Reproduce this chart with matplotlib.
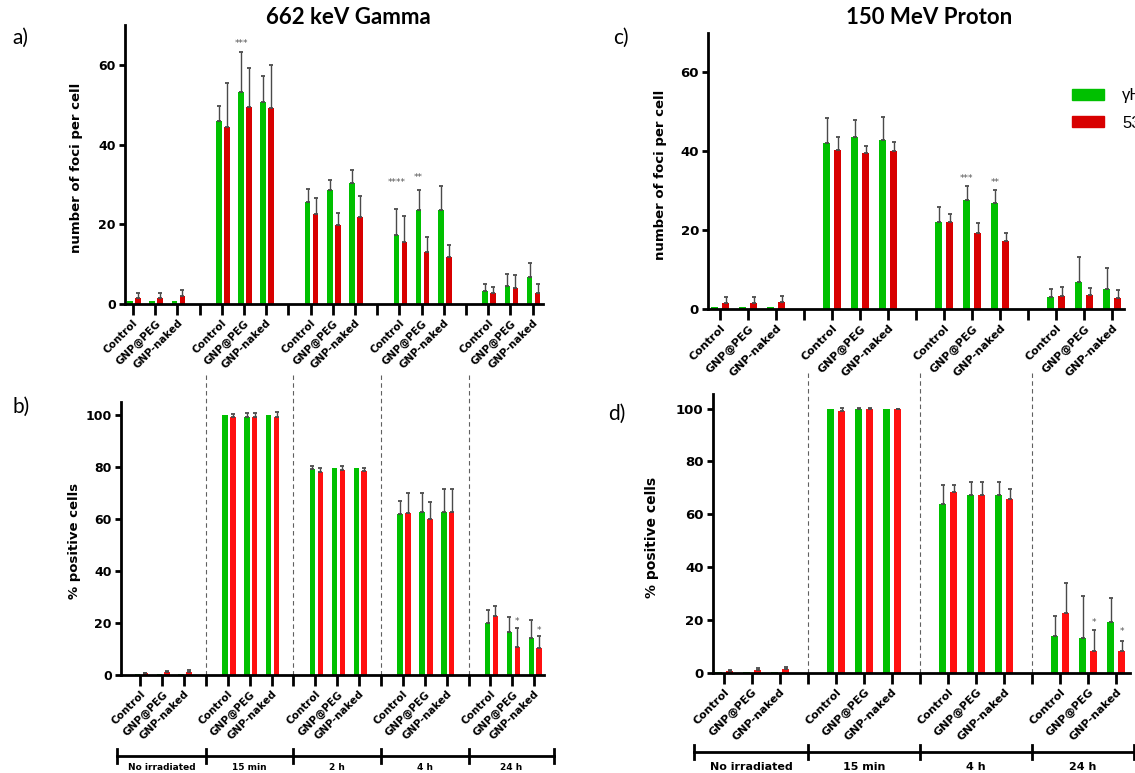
import numpy as np
import matplotlib.pyplot as plt
import matplotlib.transforms as mtransforms
from matplotlib.patches import Patch

# ---- data -------------------------------------------------------------
samples = ["Control", "GNP@PEG", "GNP-naked"]
times_gamma = ["No irradiated", "15 min", "2 h", "4 h", "24 h"]
times_proton = ["No irradiated", "15 min", "4 h", "24 h"]

# a) 662 keV gamma, foci per cell (gH2AX green / 53BP1 red)
foci_g_green = [0.8, 0.8, 0.8, 45.9, 53.3, 50.8, 25.6, 28.7, 30.4, 17.3, 23.7, 23.5, 3.3, 4.6, 6.8]
foci_g_green_err = [0, 0, 0, 3.9, 10.0, 6.5, 3.3, 2.5, 3.2, 6.6, 5.0, 6.1, 1.7, 3.0, 3.4]
foci_g_red = [1.6, 1.6, 2.0, 44.3, 49.4, 49.2, 22.5, 19.9, 21.8, 15.5, 13.0, 11.9, 2.7, 4.1, 2.7]
foci_g_red_err = [1.2, 1.2, 1.5, 11.1, 9.7, 10.8, 4.1, 2.9, 5.4, 6.5, 3.9, 2.9, 1.5, 3.1, 2.3]
foci_g_stars = [(4, "green", "***", 65.3), (9, "green", "****", 30.6), (10, "green", "**", 31.8)]

# b) 662 keV gamma, % positive cells
pos_g_green = [0.2, 0.3, 0.3, 99.7, 99.1, 99.7, 79.3, 79.6, 79.6, 62.0, 62.6, 62.6, 20.1, 16.4, 14.2]
pos_g_green_err = [0, 0, 0, 0, 1.7, 0, 0.9, 0, 0, 4.7, 7.4, 9.0, 4.7, 5.9, 6.8]
pos_g_red = [0.6, 1.0, 1.3, 99.1, 99.1, 99.1, 78.0, 78.9, 78.4, 62.4, 59.9, 62.6, 22.8, 10.8, 10.4]
pos_g_red_err = [0.3, 0.4, 0.6, 1.2, 1.7, 1.8, 1.6, 1.3, 1.2, 7.6, 6.4, 9.0, 3.7, 7.4, 4.5]
pos_g_stars = [(13, "red", "*", 20.4), (14, "red", "*", 17.2)]

# c) 150 MeV proton, foci per cell
foci_p_green = [0.7, 0.7, 0.7, 42.0, 43.5, 42.9, 22.1, 27.6, 26.8, 3.0, 6.9, 5.1]
foci_p_green_err = [0, 0, 0, 6.5, 4.5, 5.8, 3.9, 3.5, 3.3, 2.1, 6.3, 5.3]
foci_p_red = [1.5, 1.7, 1.9, 40.4, 39.6, 40.0, 22.0, 19.2, 17.2, 3.3, 3.5, 2.8]
foci_p_red_err = [1.5, 1.4, 1.5, 3.2, 1.8, 2.3, 2.1, 2.6, 2.1, 2.3, 2.0, 2.1]
foci_p_stars = [(7, "green", "***", 33.2), (8, "green", "**", 32.1)]

# d) 150 MeV proton, % positive cells
pos_p_green = [0.1, 0.2, 0.2, 99.9, 99.9, 99.9, 63.7, 67.2, 67.3, 13.9, 13.0, 19.3]
pos_p_green_err = [0, 0, 0, 0, 0.2, 0, 7.2, 5.0, 4.7, 7.4, 16.0, 9.0]
pos_p_red = [0.5, 1.0, 1.4, 99.1, 99.9, 99.9, 68.3, 67.3, 65.6, 22.6, 8.3, 8.3]
pos_p_red_err = [0.4, 0.8, 0.9, 1.2, 0.2, 0.1, 2.9, 4.7, 4.0, 11.5, 7.7, 3.8]
pos_p_stars = [(10, "red", "*", 19.1), (11, "red", "*", 15.5)]

legend_labels = ["\u03b3H2AX", "53BP1"]

GREEN = "#00c000"
RED_DARK = "#d80000"
RED = "#ff1010"
ERR = "#4a4a4a"

W, H = 1135, 773
fig = plt.figure(figsize=(W / 100, H / 100), dpi=100)


def px_axes(left, top, right, bottom):
    return fig.add_axes([left / W, 1 - bottom / H, (right - left) / W, (bottom - top) / H])


def positions(n_groups):
    # 3 samples per group, one empty slot between groups
    pos = [4 * g + k for g in range(n_groups) for k in range(3)]
    seps = [4 * g + 3 for g in range(n_groups - 1)]
    return np.array(pos), seps


def panel(ax, green, green_err, red, red_err, n_groups, red_col, offs, stars,
          ylim, yticks, xlim, tick_fs, xlab_fs):
    pos, seps = positions(n_groups)
    width = 0.25
    xg = pos + offs[0]
    xr = pos + offs[1]
    ax.bar(xg, green, width, color=GREEN, zorder=2)
    ax.bar(xr, red, width, color=red_col, zorder=2)
    for x, y, e in ((xg, green, green_err), (xr, red, red_err)):
        y = np.array(y)
        e = np.array(e)
        m = e > 0
        ax.errorbar(x[m], y[m], yerr=[np.zeros(m.sum()), e[m]], fmt="none",
                    ecolor=ERR, elinewidth=1.0, capsize=1.6, capthick=1.3, zorder=3)
    for i, which, s, yv in stars:
        x = pos[i] + (offs[0] if which == "green" else offs[1])
        ax.text(x, yv, s, ha="center", va="center", fontsize=6.5, color="#555555")

    ticks = sorted(list(pos) + seps)
    labels = [samples[list(pos).index(t) % 3] if t in pos else "" for t in ticks]
    ax.set_xticks(ticks)
    ax.set_xticklabels(labels, rotation=45, ha="right", rotation_mode="anchor",
                       fontsize=xlab_fs, fontweight="bold")
    ax.set_xlim(*xlim)
    ax.set_ylim(*ylim)
    ax.set_yticks(yticks)
    ax.tick_params(axis="y", length=4.5, width=2, labelsize=tick_fs, pad=2)
    ax.tick_params(axis="x", length=8, width=2, pad=2)
    for lab in ax.get_yticklabels():
        lab.set_fontweight("bold")
    for side in ("top", "right"):
        ax.spines[side].set_visible(False)
    for side in ("left", "bottom"):
        ax.spines[side].set_linewidth(2)
    return seps


def timeline(ax, bounds, names, y, y_text, fs, sep_top):
    trans = mtransforms.blended_transform_factory(ax.transData, ax.transAxes)
    for s in bounds[1:-1]:
        ax.plot([s, s], [0, sep_top], transform=trans, clip_on=False,
                color="#606060", lw=0.8, dashes=(4, 3), zorder=1)
    ax.plot([bounds[0], bounds[-1]], [y, y], transform=trans, clip_on=False,
            color="black", lw=2)
    for b in bounds:
        ax.plot([b, b], [y - 0.026, y + 0.026], transform=trans, clip_on=False,
                color="black", lw=2)
    for i, name in enumerate(names):
        xc = (bounds[i] + bounds[i + 1]) / 2
        ax.text(xc, y_text, name, transform=trans, ha="center", va="center",
                fontsize=fs, fontweight="bold")


ax_a = px_axes(124.7, 25, 543, 304)
ax_b = px_axes(121, 401.7, 544, 675)
ax_c = px_axes(708, 32.7, 1124, 309.3)
ax_d = px_axes(712.7, 394, 1130, 672.7)

panel(ax_a, foci_g_green, foci_g_green_err, foci_g_red, foci_g_red_err, 5, RED_DARK,
      (-0.13, 0.23), foci_g_stars, (0, 70), [0, 20, 40, 60], (-0.37, 18.47), 9, 7.5)
panel(ax_b, pos_g_green, pos_g_green_err, pos_g_red, pos_g_red_err, 5, RED,
      (-0.13, 0.23), pos_g_stars, (0, 105), [0, 20, 40, 60, 80, 100], (-0.88, 18.45), 9, 7.5)
panel(ax_c, foci_p_green, foci_p_green_err, foci_p_red, foci_p_red_err, 4, RED_DARK,
      (-0.18, 0.2), foci_p_stars, (0, 70), [0, 20, 40, 60], (-0.43, 14.43), 9.5, 8)
panel(ax_d, pos_p_green, pos_p_green_err, pos_p_red, pos_p_red_err, 4, RED,
      (-0.18, 0.2), pos_p_stars, (0, 105.5), [0, 20, 40, 60, 80, 100], (-0.4, 14.5), 9.5, 8)

timeline(ax_b, [-1.05, 3, 7, 11, 15, 18.9], times_gamma, -0.296, -0.337, 6.5, 1.109)
timeline(ax_d, [-1.05, 3, 7, 11, 14.65], times_proton, -0.285, -0.338, 8, 1.079)

ax_a.set_ylabel("number of foci per cell", fontsize=9.5, fontweight="bold")
ax_a.yaxis.set_label_coords(-0.0997, 0.489)
ax_b.set_ylabel("% positive cells", fontsize=9.5, fontweight="bold")
ax_b.yaxis.set_label_coords(-0.0946, 0.49)
ax_c.set_ylabel("number of foci per cell", fontsize=9.5, fontweight="bold")
ax_c.yaxis.set_label_coords(-0.0986, 0.487)
ax_d.set_ylabel("% positive cells", fontsize=10, fontweight="bold")
ax_d.yaxis.set_label_coords(-0.129, 0.487)

handles = [Patch(color=GREEN), Patch(color=RED_DARK)]
ax_c.legend(handles, legend_labels, loc="upper left", bbox_to_anchor=(0.875, 0.80),
            frameon=False, handlelength=1.9, handleheight=0.66,
            handletextpad=1.1, labelspacing=0.75, borderpad=0, borderaxespad=0,
            prop={"family": "Liberation Sans", "size": 12})

fig.text(348 / W, 1 - 18 / H, "662 keV Gamma", ha="center", va="center",
         fontsize=16, fontweight="bold", family="Lato")
fig.text(929 / W, 1 - 17 / H, "150 MeV Proton", ha="center", va="center",
         fontsize=16, fontweight="bold", family="Lato")
for lbl, x, y in (("a)", 12, 38), ("b)", 12, 407), ("c)", 613, 38), ("d)", 608, 414)):
    fig.text(x / W, 1 - y / H, lbl, ha="left", va="center", fontsize=15, family="Lato")

fig.savefig("out.png", dpi=100)
